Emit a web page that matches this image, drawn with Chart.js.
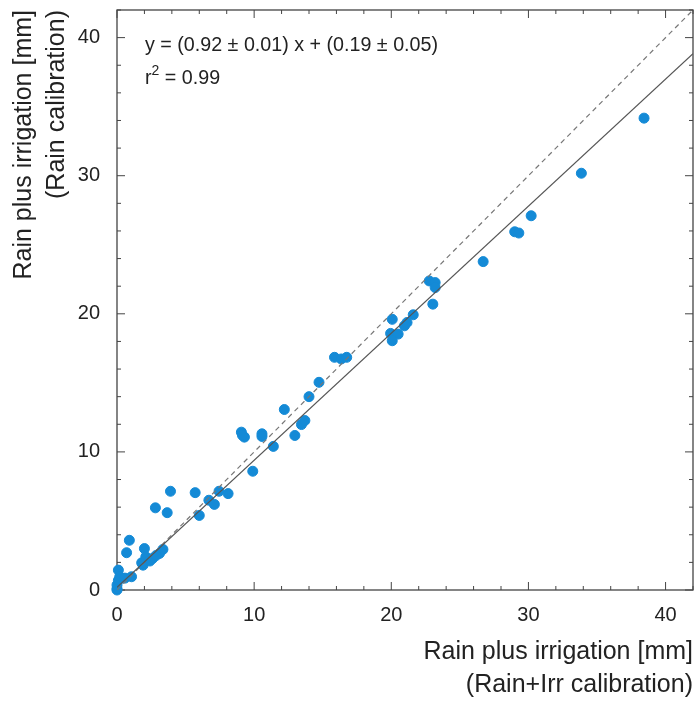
<!DOCTYPE html>
<html>
<head>
<meta charset="utf-8">
<script src="https://cdn.jsdelivr.net/npm/chart.js@4.4.1/dist/chart.umd.min.js"></script>
<style>
html, body { margin: 0; padding: 0; background: #fff; }
</style>
</head>
<body>
<canvas id="scatterChart" width="699" height="702"></canvas>
<script>
// measured points: x = Rain+Irr calibration, y = Rain calibration (mm)
var xVals = [0, 0, 0, 0.1, 0.1, 0.2, 0.58, 1.06, 0.7, 0.9,
             1.8, 1.9, 2.0, 2.1, 2.6, 3.1, 3.35, 2.4, 2.85,
             2.8, 3.66, 3.9, 5.7, 6.0, 6.7, 7.1, 7.44, 8.1, 9.9,
             9.07, 9.29, 9.15, 10.57, 10.57, 11.4, 12.2, 12.97, 13.45, 13.7, 14.0, 14.73,
             15.86, 16.35, 16.75,
             19.95, 20.5, 20.07, 20.07, 20.96, 21.15, 21.6, 22.77, 23.2, 23.2, 23.03,
             26.7, 29.0, 29.3, 30.2, 33.86, 38.43];
var yVals = [0, 0.1, 0.36, 0.7, 1.44, 0.96, 0.86, 0.96, 2.7, 3.6,
             1.97, 1.8, 3.0, 2.4, 2.29, 2.65, 2.94, 2.1, 2.5,
             5.95, 5.6, 7.15, 7.05, 5.4, 6.5, 6.2, 7.15, 6.98, 8.6,
             11.43, 11.07, 11.2, 11.31, 11.12, 10.4, 13.07, 11.19, 11.98, 12.27, 14.0, 15.04,
             16.85, 16.73, 16.85,
             18.58, 18.53, 18.05, 19.6, 19.13, 19.37, 19.93, 22.38, 22.26, 21.9, 20.7,
             23.78, 25.94, 25.85, 27.1, 30.18, 34.17];

// 1:1 line and regression line end points
var oneToOneX = [0, 42];
var oneToOneY = [0, 42];
var fitX = [0, 42];
var fitY = [0.19, 38.83];

var axisMin = 0, axisMax = 42;
var majorTicks = [0, 10, 20, 30, 40];
var minorTicks = [0, 2, 4, 6, 8, 10, 12, 14, 16, 18, 20, 22, 24, 26, 28, 30, 32, 34, 36, 38, 40, 42];

var xTitle = ['Rain plus irrigation [mm]', '(Rain+Irr calibration)'];
var yTitle = ['Rain plus irrigation [mm]', '(Rain calibration)'];
var eqText = 'y = (0.92 \u00b1 0.01) x + (0.19 \u00b1 0.05)';
var r2Text = ['r', '2', ' = 0.99'];

function toPoints(xs, ys) {
    var pts = [];
    for (var i = 0; i < xs.length; i++) pts.push({x: xs[i], y: ys[i]});
    return pts;
}

var fontFam = '"Liberation Sans", Arial, sans-serif';
var textColor = '#222';

// box round the plot with inward ticks on every side
var plotFrame = {
    id: 'plotFrame',
    beforeDatasetsDraw: function(chart) {
        var ctx = chart.ctx, a = chart.chartArea;
        var sx = chart.scales.x, sy = chart.scales.y;
        ctx.save();
        ctx.strokeStyle = '#444';
        ctx.lineWidth = 1.3;
        ctx.strokeRect(a.left, a.top, a.right - a.left, a.bottom - a.top);
        ctx.lineWidth = 1;
        ctx.beginPath();
        minorTicks.forEach(function(v) {
            var len = (v % 10 === 0) ? 8 : 4;
            var px = sx.getPixelForValue(v);
            var py = sy.getPixelForValue(v);
            ctx.moveTo(px, a.bottom); ctx.lineTo(px, a.bottom - len);
            ctx.moveTo(px, a.top); ctx.lineTo(px, a.top + len);
            ctx.moveTo(a.left, py); ctx.lineTo(a.left + len, py);
            ctx.moveTo(a.right, py); ctx.lineTo(a.right - len, py);
        });
        ctx.stroke();

        // regression text
        ctx.fillStyle = textColor;
        ctx.textBaseline = 'middle';
        ctx.textAlign = 'left';
        ctx.font = '19.7px ' + fontFam;
        var tx = a.left + 28;
        ctx.fillText(eqText, tx, a.top + 36);
        ctx.fillText(r2Text[0], tx, a.top + 69);
        var w = ctx.measureText(r2Text[0]).width;
        ctx.font = '14px ' + fontFam;
        ctx.fillText(r2Text[1], tx + w, a.top + 61);
        var w2 = ctx.measureText(r2Text[1]).width;
        ctx.font = '19.7px ' + fontFam;
        ctx.fillText(r2Text[2], tx + w + w2, a.top + 69);
        ctx.restore();
    }
};

var chart = new Chart(document.getElementById('scatterChart'), {
    type: 'scatter',
    data: {
        datasets: [
            { type: 'line', data: toPoints(fitX, fitY), borderColor: '#555', borderWidth: 1.2, pointRadius: 0, fill: false },
            { type: 'line', data: toPoints(oneToOneX, oneToOneY), borderColor: '#777', borderWidth: 1.2, borderDash: [5, 4], pointRadius: 0, fill: false },
            { data: toPoints(xVals, yVals), backgroundColor: '#148ad6', borderColor: '#148ad6', pointRadius: 5, clip: false }
        ]
    },
    options: {
        responsive: false,
        animation: false,
        devicePixelRatio: 1,
        layout: { padding: { top: 10, right: 2, left: 0, bottom: 0 } },
        plugins: { legend: { display: false }, tooltip: { enabled: false } },
        scales: {
            x: {
                type: 'linear', min: axisMin, max: axisMax,
                afterBuildTicks: function(scale) { scale.ticks = majorTicks.map(function(v) { return {value: v}; }); },
                afterFit: function(scale) { scale.height = 112; scale.paddingLeft = 0; scale.paddingRight = 0; },
                grid: { display: false }, border: { display: false },
                ticks: { color: textColor, font: { family: fontFam, size: 20 }, padding: 5, autoSkip: false, maxRotation: 0 },
                title: { display: true, text: xTitle, align: 'end', color: textColor, font: { family: fontFam, size: 25, lineHeight: 1.32 }, padding: { top: 0, bottom: 0 } }
            },
            y: {
                type: 'linear', min: axisMin, max: axisMax,
                afterBuildTicks: function(scale) { scale.ticks = majorTicks.map(function(v) { return {value: v}; }); },
                afterFit: function(scale) { scale.width = 117; scale.paddingTop = 0; scale.paddingBottom = 0; },
                grid: { display: false }, border: { display: false },
                ticks: { color: textColor, font: { family: fontFam, size: 20 }, padding: 9, autoSkip: false },
                title: { display: true, text: yTitle, align: 'end', color: textColor, font: { family: fontFam, size: 25, lineHeight: 1.32 }, padding: { top: 8, bottom: 0 } }
            }
        }
    },
    plugins: [plotFrame]
});
</script>
</body>
</html>
